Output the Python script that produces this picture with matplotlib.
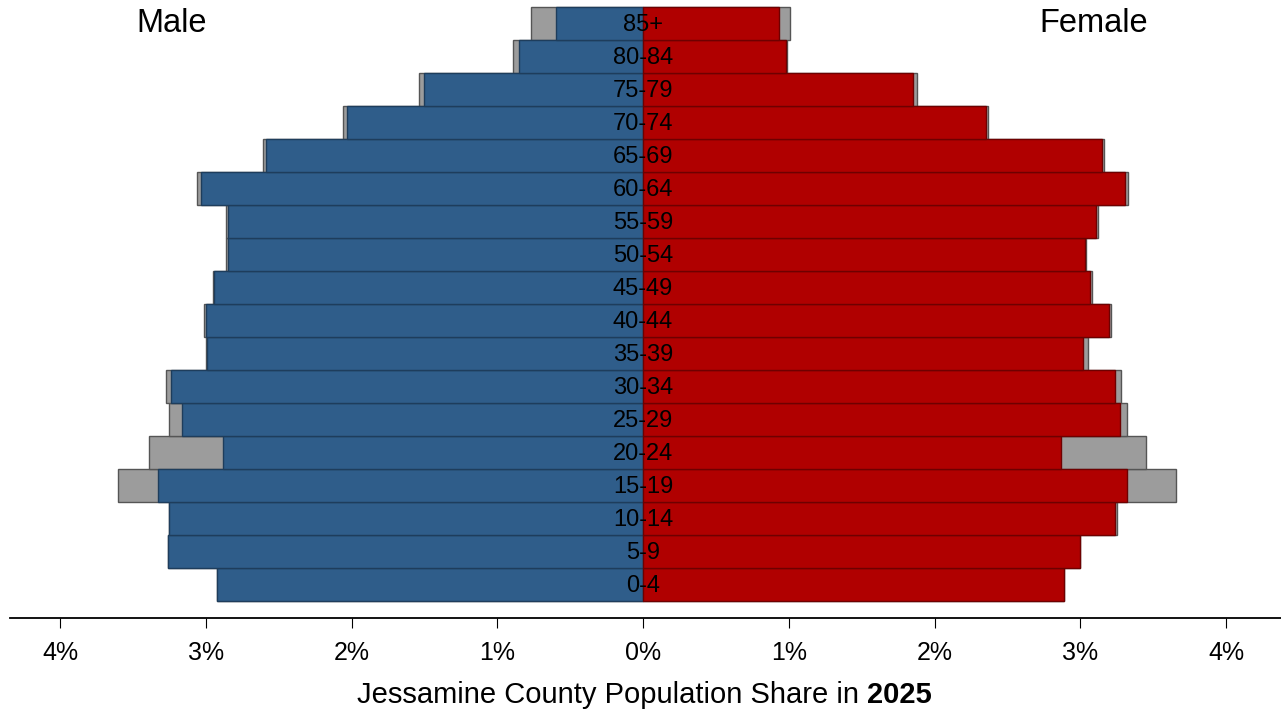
import matplotlib
matplotlib.use("Agg")
import matplotlib.pyplot as plt
import numpy as np

plt.rcParams['font.family'] = ['Liberation Sans', 'DejaVu Sans']

age_groups = ["0-4", "5-9", "10-14", "15-19", "20-24", "25-29", "30-34", "35-39",
              "40-44", "45-49", "50-54", "55-59", "60-64", "65-69", "70-74",
              "75-79", "80-84", "85+"]

male_2025 = [2.92, 3.26, 3.25, 3.33, 2.88, 3.16, 3.24, 2.99, 3.00, 2.94, 2.85, 2.85,
             3.03, 2.59, 2.03, 1.50, 0.85, 0.60]
male_other = [2.92, 3.26, 3.25, 3.60, 3.39, 3.25, 3.27, 3.00, 3.01, 2.95, 2.86, 2.86,
              3.06, 2.61, 2.06, 1.54, 0.89, 0.77]
female_2025 = [2.89, 3.00, 3.24, 3.32, 2.87, 3.27, 3.24, 3.02, 3.20, 3.07, 3.03, 3.11,
               3.31, 3.15, 2.35, 1.85, 0.98, 0.93]
female_other = [2.89, 3.00, 3.25, 3.66, 3.45, 3.32, 3.28, 3.05, 3.21, 3.08, 3.04, 3.12,
                3.33, 3.16, 2.37, 1.88, 0.99, 1.01]

xticks = [-4, -3, -2, -1, 0, 1, 2, 3, 4]
xtick_labels = ["4%", "3%", "2%", "1%", "0%", "1%", "2%", "3%", "4%"]

W, H = 1281, 715
fig = plt.figure(figsize=(W / 100, H / 100), dpi=100)
ax = fig.add_axes([10 / W, 1 - 618 / H, 1 - 10 / W, 618 / H])

y = np.arange(len(age_groups))
blue = "#2F5D8A"
red = "#B00000"
gray = "#9C9C9C"

ax.barh(y, [-v for v in male_other], height=1.0, color=gray, edgecolor="#555555", linewidth=1.0, zorder=1)
ax.barh(y, female_other, height=1.0, color=gray, edgecolor="#555555", linewidth=1.0, zorder=1)
ax.barh(y, [-v for v in male_2025], height=1.0, color=blue, edgecolor="#1E3D5C", linewidth=1.0, zorder=2)
ax.barh(y, female_2025, height=1.0, color=red, edgecolor="#6E0000", linewidth=1.0, zorder=2)

for yi, lab in zip(y, age_groups):
    ax.text(0, yi - 0.05, lab, ha="center", va="center", fontsize=17, color="black", zorder=3)

ax.set_xlim(-4.343, 4.377)
ax.set_ylim(-1.03, 17.7)
ax.set_yticks([])
for s in ["top", "right", "left"]:
    ax.spines[s].set_visible(False)
ax.spines["bottom"].set_linewidth(1.3)
ax.set_xticks(xticks)
ax.set_xticklabels(xtick_labels, fontsize=18)
ax.tick_params(axis="x", direction="out", length=7.5, width=0.8, pad=9)

fig.text(172 / W, 1 - 24 / H, "Male", ha="center", va="center", fontsize=23.5)
fig.text(1094 / W, 1 - 24 / H, "Female", ha="center", va="center", fontsize=23.5)

# title with bold year
fig.canvas.draw()
r = fig.canvas.get_renderer()
t1 = fig.text(0, 1 - 695 / H, "Jessamine County Population Share in ", ha="left", va="center", fontsize=21)
t2 = fig.text(0, 1 - 695 / H, "2025", ha="left", va="center", fontsize=21, fontweight="bold")
w1 = t1.get_window_extent(r).width
w2 = t2.get_window_extent(r).width
x0 = 644 - (w1 + w2) / 2
t1.set_x(x0 / W)
t2.set_x((x0 + w1) / W)

fig.savefig("out.png", dpi=100)
